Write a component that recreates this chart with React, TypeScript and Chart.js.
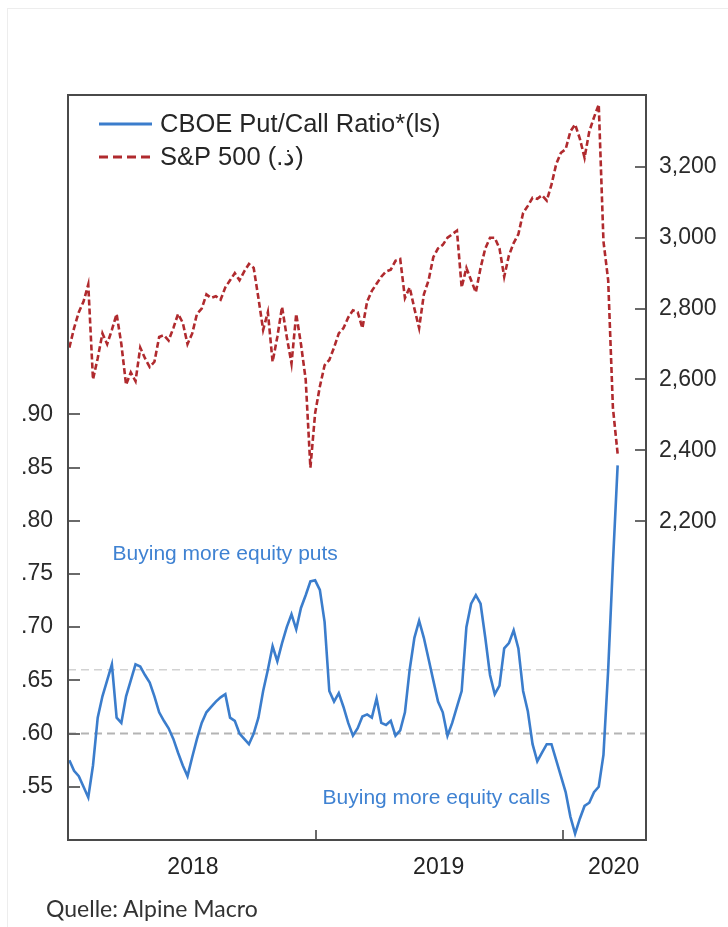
import React, { useEffect, useRef } from 'react';
import { Chart, registerables } from 'chart.js';

Chart.register(...registerables);

// Weekly observations; x = days since 2018-01-01
const FIRST_DAY = -1;
const WEEK = 7;

const spxValues = [
  2690, 2745, 2790, 2820, 2868, 2600, 2660, 2730, 2700, 2740,
  2785, 2700, 2585, 2620, 2595, 2690, 2660, 2635, 2650, 2720,
  2725, 2710, 2745, 2785, 2760, 2700, 2730, 2785, 2800, 2840,
  2830, 2835, 2825, 2860, 2880, 2900, 2880, 2905, 2926, 2915,
  2830, 2740, 2790, 2650, 2720, 2805, 2720, 2645, 2785, 2700,
  2600, 2351, 2505, 2580, 2640, 2655, 2690, 2730, 2745, 2775,
  2795, 2790, 2745, 2820, 2850, 2870, 2890, 2905, 2910, 2935,
  2940, 2830, 2860, 2800, 2745, 2840, 2880, 2945, 2970, 2980,
  3000, 3010, 3020, 2860, 2915, 2880, 2846, 2915, 2970, 3000,
  3000, 2970, 2890, 2950, 2985, 3010, 3070, 3090, 3113, 3110,
  3120, 3105, 3150, 3208, 3240, 3250, 3300, 3320, 3280, 3226,
  3300, 3340, 3376, 2990, 2880, 2520, 2390,
];

const pcrValues = [
  0.575, 0.565, 0.560, 0.550, 0.540, 0.570, 0.615, 0.635, 0.650, 0.665,
  0.615, 0.610, 0.635, 0.650, 0.665, 0.663, 0.655, 0.648, 0.635, 0.620,
  0.612, 0.605, 0.595, 0.582, 0.570, 0.560, 0.578, 0.595, 0.610, 0.620,
  0.625, 0.630, 0.634, 0.637, 0.615, 0.612, 0.600, 0.595, 0.590, 0.600,
  0.615, 0.640, 0.660, 0.682, 0.668, 0.685, 0.700, 0.712, 0.698, 0.718,
  0.730, 0.743, 0.744, 0.735, 0.705, 0.640, 0.630, 0.638, 0.625, 0.610,
  0.598, 0.605, 0.616, 0.618, 0.615, 0.633, 0.610, 0.608, 0.612, 0.598,
  0.603, 0.620, 0.660, 0.690, 0.706, 0.690, 0.670, 0.650, 0.630, 0.620,
  0.598, 0.610, 0.625, 0.640, 0.700, 0.722, 0.730, 0.722, 0.690, 0.655,
  0.637, 0.645, 0.680, 0.685, 0.697, 0.680, 0.640, 0.621, 0.590, 0.574,
  0.582, 0.590, 0.590, 0.575, 0.560, 0.545, 0.522, 0.506, 0.520, 0.532,
  0.535, 0.545, 0.550, 0.580, 0.660, 0.760, 0.852,
];

const yearLabels = ['2018', '2019', '2020'];
const yearLabelDays = [182, 546, 805];
const yearBoundaryDays = [365, 730];
const leftTicks = [0.55, 0.6, 0.65, 0.7, 0.75, 0.8, 0.85, 0.9];
const rightTicks = [2200, 2400, 2600, 2800, 3000, 3200];
const refLevels = [0.6, 0.66];
const X_MIN = -3;
const X_MAX = 853;

const legendLabels = ['CBOE Put/Call Ratio*(ls)', 'S&P 500 (.ذ)'];
const notePuts = { text: 'Buying more equity puts', day: 63, value: 0.769 };
const noteCalls = { text: 'Buying more equity calls', day: 374, value: 0.539 };

const BLUE = '#3b7dcc';
const RED = '#b02a2e';
const FONT = '"Liberation Sans", Arial, Helvetica, sans-serif';

const toPoints = (vals: number[]) => vals.map((v, i) => ({ x: FIRST_DAY + WEEK * i, y: v }));

const decorPlugin = {
  id: 'decor',
  afterDatasetsDraw(chart: any) {
    const { ctx, scales } = chart;
    ctx.save();
    ctx.font = `21px ${FONT}`;
    ctx.fillStyle = '#3f82d2';
    ctx.textAlign = 'left';
    ctx.textBaseline = 'middle';
    for (const n of [notePuts, noteCalls]) {
      ctx.fillText(n.text, scales.x.getPixelForValue(n.day), scales.yL.getPixelForValue(n.value));
    }
    ctx.restore();
  },
  afterDraw(chart: any) {
    const { ctx, chartArea, scales } = chart;
    const { left, right, top, bottom } = chartArea;
    ctx.save();
    // tick marks (inward)
    ctx.strokeStyle = '#6a6a6a';
    ctx.lineWidth = 2;
    ctx.beginPath();
    for (const v of leftTicks) {
      const y = Math.round(scales.yL.getPixelForValue(v));
      ctx.moveTo(left, y);
      ctx.lineTo(left + 12, y);
    }
    for (const v of rightTicks) {
      const y = Math.round(scales.yR.getPixelForValue(v));
      ctx.moveTo(right - 11, y);
      ctx.lineTo(right, y);
    }
    for (const d of yearBoundaryDays) {
      const x = Math.round(scales.x.getPixelForValue(d));
      ctx.moveTo(x, bottom);
      ctx.lineTo(x, bottom - 10);
    }
    ctx.stroke();
    // frame
    ctx.strokeStyle = '#4a4a4a';
    ctx.lineWidth = 2;
    ctx.strokeRect(left, top, right - left, bottom - top);
    // legend
    ctx.lineWidth = 3;
    ctx.strokeStyle = BLUE;
    ctx.setLineDash([]);
    ctx.beginPath();
    ctx.moveTo(99, 124);
    ctx.lineTo(152, 124);
    ctx.stroke();
    ctx.strokeStyle = RED;
    ctx.setLineDash([9, 5]);
    ctx.beginPath();
    ctx.moveTo(99, 157);
    ctx.lineTo(152, 157);
    ctx.stroke();
    ctx.setLineDash([]);
    ctx.font = `25.5px ${FONT}`;
    ctx.fillStyle = '#262626';
    ctx.textAlign = 'left';
    ctx.textBaseline = 'middle';
    ctx.fillText(legendLabels[0], 160, 125);
    ctx.fillText(legendLabels[1], 160, 158);
    ctx.restore();
  },
};

export default function App() {
  const ref = useRef<HTMLCanvasElement | null>(null);

  useEffect(() => {
    if (!ref.current) return;
    const tickFont = { family: FONT, size: 23 };
    const chart = new Chart(ref.current, {
      type: 'line',
      data: {
        datasets: [
          {
            label: legendLabels[0],
            data: toPoints(pcrValues),
            yAxisID: 'yL',
            borderColor: BLUE,
            borderWidth: 2.6,
            pointRadius: 0,
            tension: 0,
          },
          {
            label: legendLabels[1],
            data: toPoints(spxValues),
            yAxisID: 'yR',
            borderColor: RED,
            borderWidth: 2.6,
            borderDash: [6, 3],
            pointRadius: 0,
            tension: 0,
          },
          {
            label: 'ref 0.60',
            data: [{ x: X_MIN, y: refLevels[0] }, { x: X_MAX, y: refLevels[0] }],
            yAxisID: 'yL',
            borderColor: '#b4b4b4',
            borderWidth: 2,
            borderDash: [8, 5],
            pointRadius: 0,
          },
          {
            label: 'ref 0.66',
            data: [{ x: X_MIN, y: refLevels[1] }, { x: X_MAX, y: refLevels[1] }],
            yAxisID: 'yL',
            borderColor: '#d2d2d2',
            borderWidth: 1.5,
            borderDash: [8, 5],
            pointRadius: 0,
          },
        ],
      },
      options: {
        animation: false,
        responsive: false,
        maintainAspectRatio: false,
        devicePixelRatio: 1,
        layout: { padding: { top: 95, left: 0, right: 0, bottom: 0 } },
        plugins: { legend: { display: false }, tooltip: { enabled: false } },
        scales: {
          x: {
            type: 'linear',
            position: 'bottom',
            min: X_MIN,
            max: X_MAX,
            grid: { display: false, drawTicks: false },
            border: { display: false },
            ticks: {
              font: tickFont,
              color: '#222',
              padding: 14,
              maxRotation: 0,
              autoSkip: false,
              callback: (_v: any, i: number) => yearLabels[i],
            },
            afterBuildTicks: (s: any) => {
              s.ticks = yearLabelDays.map((d) => ({ value: d }));
            },
            afterFit: (s: any) => {
              s.height = 87;
            },
          },
          yL: {
            type: 'linear',
            position: 'left',
            min: 0.5,
            max: 1.2,
            grid: { display: false, drawTicks: false },
            border: { display: false },
            ticks: {
              font: tickFont,
              color: '#2a2a2a',
              padding: 15,
              callback: (v: any) => Number(v).toFixed(2).replace(/^0/, ''),
            },
            afterBuildTicks: (s: any) => {
              s.ticks = leftTicks.map((v) => ({ value: v }));
            },
            afterFit: (s: any) => {
              s.width = 68;
            },
          },
          yR: {
            type: 'linear',
            position: 'right',
            min: 1300,
            max: 3403,
            grid: { display: false, drawTicks: false },
            border: { display: false },
            ticks: {
              font: tickFont,
              color: '#2a2a2a',
              padding: 13,
              callback: (v: any) => Number(v).toLocaleString('en-US'),
            },
            afterBuildTicks: (s: any) => {
              s.ticks = rightTicks.map((v) => ({ value: v }));
            },
            afterFit: (s: any) => {
              s.width = 82;
            },
          },
        },
      },
      plugins: [decorPlugin],
    } as any);
    return () => chart.destroy();
  }, []);

  return (
    <div style={{ position: 'absolute', left: 0, top: 0, width: 728, height: 927, background: '#fff', overflow: 'hidden' }}>
      <div
        style={{
          position: 'absolute',
          left: 7,
          top: 8,
          width: 730,
          height: 930,
          borderTop: '1px solid #ededed',
          borderLeft: '1px solid #ededed',
        }}
      />
      <canvas ref={ref} width={728} height={927} style={{ position: 'absolute', left: 0, top: 0 }} />
      <div
        style={{
          position: 'absolute',
          left: 46,
          top: 895,
          fontFamily: 'Lato, "Open Sans", sans-serif',
          fontSize: 23,
          lineHeight: 1.2,
          color: '#333',
          whiteSpace: 'nowrap',
        }}
      >
        Quelle: Alpine Macro
      </div>
    </div>
  );
}
